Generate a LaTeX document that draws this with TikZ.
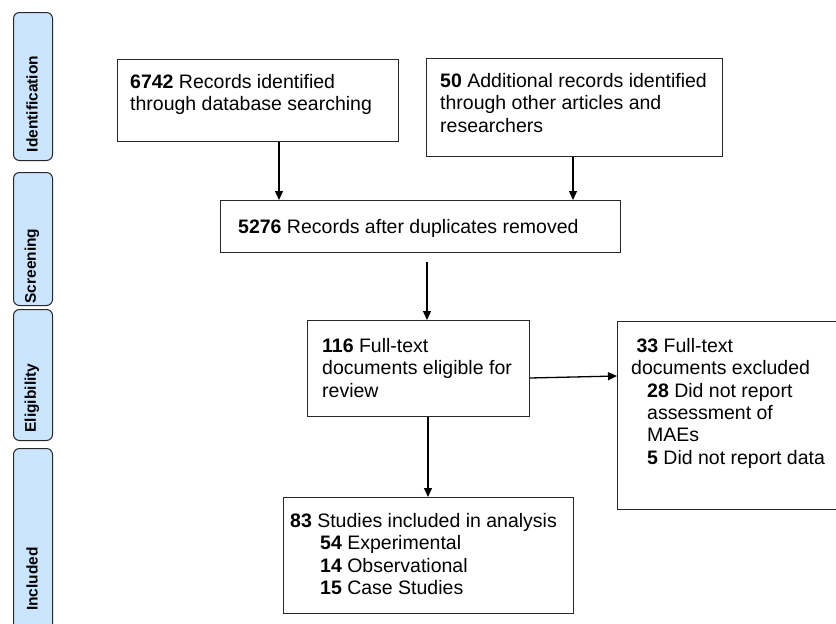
\documentclass[tikz,border=0pt]{standalone}
\usepackage{fontspec}
\setmainfont{Liberation Sans}
\usetikzlibrary{arrows.meta}
\definecolor{sidefill}{RGB}{204,229,255}
\definecolor{edge}{RGB}{40,40,40}
\begin{document}
\begin{tikzpicture}[x=1pt,y=-1pt,
  box/.style={draw=edge, line width=1pt, inner sep=0, anchor=north west},
  txt/.style={inner sep=0, anchor=north west, align=left, font=\fontsize{19.5}{22.4}\selectfont},
  side/.style={draw=edge, line width=1pt, fill=sidefill, rounded corners=6pt, inner sep=0, anchor=north west, minimum width=39},
  sidetxt/.style={rotate=90, font=\fontsize{15.5}{18}\selectfont\bfseries, inner sep=0},
  arr/.style={line width=1.3pt, -{Triangle[length=9pt,width=8pt]}}]
\useasboundingbox (0,0) rectangle (836,624);
% sidebars
\node[side, minimum height=148] (s1) at (13,12) {};
\node[sidetxt] (s1t) at (32,104) {Identification};
\node[side, minimum height=133] (s2) at (13,172) {};
\node[sidetxt] (s2t) at (32,266) {Screening};
\node[side, minimum height=131] (s3) at (13,309) {};
\node[sidetxt] (s3t) at (32,398) {Eligibility};
\node[side, minimum height=190] (s4) at (13,448) {};
\node[sidetxt] (s4t) at (32,579) {Included};
% boxes
\node[box, minimum width=281, minimum height=82] (a) at (117,59) {};
\node[txt] (at) at (130,74) {\textbf{6742} Records identified\\through database searching};
\node[box, minimum width=296, minimum height=98] (b) at (426,58) {};
\node[txt] (bt) at (440,73) {\textbf{50} Additional records identified\\through other articles and\\researchers};
\node[box, minimum width=400, minimum height=52] (c) at (220,200) {};
\node[txt] (ct) at (238,219) {\textbf{5276} Records after duplicates removed};
\node[box, minimum width=222, minimum height=96] (d) at (307,320) {};
\node[txt] (dt) at (322,338) {\textbf{116} Full-text\\documents eligible for\\review};
\node[box, minimum width=230, minimum height=188] (e) at (617,321) {};
\node[txt] (et) at (631,338) {\hspace*{5.4pt}\textbf{33} Full-text\\documents excluded\\\hspace*{16pt}\textbf{28} Did not report\\\hspace*{16pt}assessment of\\\hspace*{16pt}MAEs\\\hspace*{16pt}\textbf{5} Did not report data};
\node[box, minimum width=290, minimum height=116] (f) at (283,497) {};
\node[txt] (ft) at (290,513) {\textbf{83} Studies included in analysis\\\hspace*{30pt}\textbf{54} Experimental\\\hspace*{30pt}\textbf{14} Observational\\\hspace*{30pt}\textbf{15} Case Studies};
% connectors
\coordinate (x1) at (279,0);
\coordinate (x2) at (573,0);
\coordinate (c1) at (427,262);
\coordinate (y1) at (0,378);
\coordinate (y2) at (0,376);
\coordinate (x4) at (428,0);
\draw[arr] (a.south -| x1) -- (c.north -| x1);
\draw[arr] (b.south -| x2) -- (c.north -| x2);
\draw[arr] (c1) -- (d.north -| c1);
\draw[arr] (d.east |- y1) -- (e.west |- y2);
\draw[arr] (d.south -| x4) -- (f.north -| x4);
\end{tikzpicture}
\end{document}
